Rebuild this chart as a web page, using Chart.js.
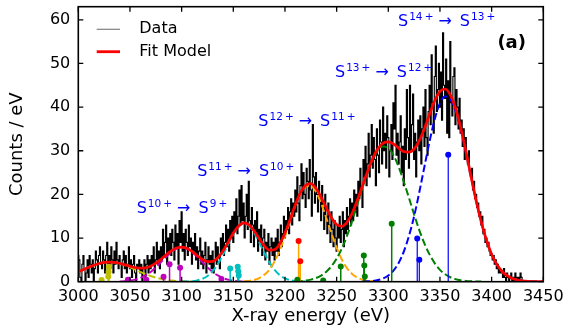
<!DOCTYPE html>
<html>
<head>
<meta charset="utf-8">
<script src="https://cdn.jsdelivr.net/npm/chart.js@4.4.1/dist/chart.umd.min.js"></script>
<style>
html,body{margin:0;padding:0;background:#fff;}
#wrap{width:566px;height:327px;position:relative;}
</style>
</head>
<body>
<div id="wrap"><canvas id="c" width="566" height="327"></canvas></div>
<script>
const FONT = "'DejaVu Sans', 'Liberation Sans', sans-serif";

// ---------- measured data (1 eV bins starting at 3000 eV) ----------
const dataStartEV = 3000;
const dataStepEV = 1;
const dataCounts = [
  6, 5, 1, 0, 4, 6, 3, 0, 2, 5,
  1, 6, 4, 2, 5, 0, 3, 7, 5, 2,
  6, 8, 4, 3, 7, 5, 2, 6, 9, 4,
  6, 3, 8, 5, 2, 7, 4, 9, 5, 3,
  6, 4, 1, 5, 7, 3, 6, 2, 4, 8,
  3, 5, 1, 4, 6, 2, 0, 4, 3, 5,
  2, 4, 0, 3, 5, 1, 4, 6, 2, 5,
  3, 6, 4, 8, 2, 5, 9, 4, 7, 3,
  8, 5, 12, 6, 9, 13, 4, 10, 7, 11,
  6, 12, 9, 5, 13, 8, 11, 4, 14, 9,
  16, 7, 11, 5, 12, 9, 6, 13, 8, 10,
  4, 9, 7, 11, 5, 8, 3, 7, 10, 4,
  7, 3, 6, 9, 2, 5, 8, 4, 6, 3,
  7, 2, 5, 9, 4, 8, 6, 3, 10, 7,
  11, 6, 9, 13, 8, 12, 7, 14, 10, 15,
  9, 16, 12, 19, 11, 15, 21, 13, 22, 14,
  18, 10, 15, 20, 12, 23, 14, 9, 17, 13,
  8, 14, 11, 16, 7, 12, 9, 13, 6, 10,
  12, 5, 9, 7, 11, 4, 8, 10, 6, 9,
  5, 10, 7, 12, 6, 9, 13, 8, 11, 15,
  10, 14, 12, 17, 11, 16, 19, 13, 18, 15,
  21, 16, 24, 18, 14, 22, 27, 19, 25, 20,
  17, 26, 23, 19, 28, 21, 15, 36, 24, 18,
  25, 20, 16, 23, 19, 14, 22, 17, 12, 20,
  15, 11, 18, 13, 9, 16, 12, 8, 14, 10,
  7, 13, 10, 15, 9, 12, 16, 8, 14, 11,
  17, 12, 15, 19, 13, 18, 14, 21, 16, 20,
  15, 23, 19, 26, 21, 17, 28, 24, 31, 22,
  27, 34, 24, 29, 36, 26, 33, 28, 22, 35,
  29, 25, 37, 32, 27, 40, 30, 34, 26, 38,
  33, 24, 30, 36, 28, 41, 35, 45, 29, 34,
  27, 32, 38, 25, 31, 22, 35, 28, 44, 33,
  26, 45, 30, 36, 43, 28, 34, 24, 32, 37,
  30, 38, 27, 35, 40, 31, 44, 33, 29, 39,
  45, 36, 52, 41, 34, 47, 54, 39, 44, 50,
  40, 48, 37, 57, 45, 42, 51, 34, 46, 33,
  55, 41, 38, 47, 49, 36, 44, 40, 35, 42,
  34, 37, 31, 35, 28, 33, 29, 27, 30, 25,
  24, 26, 21, 23, 19, 20, 17, 18, 15, 16,
  13, 15, 11, 12, 9, 10, 8, 9, 7, 6,
  6, 5, 6, 4, 5, 3, 4, 2, 3, 2,
  2, 1, 3, 1, 0, 2, 1, 0, 1, 2,
  0, 1, 0, 2, 1, 0, 1, 0, 2, 1,
  0
];

// ---------- fit model and components (5 eV grid) ----------
const curveStepEV = 5;
const fitStartEV = 3000;
const fitModel = [
  2.25, 2.78, 3.31, 3.78, 4.17, 4.41, 4.50, 4.41, 4.22, 3.90,
  3.55, 3.25, 3.10, 3.18, 3.55, 4.23, 5.14, 6.15, 7.07, 7.70,
  7.92, 7.64, 6.94, 6.01, 5.14, 4.60, 4.66, 5.47, 7.02, 9.06,
  11.14, 12.72, 13.48, 13.06, 11.70, 9.89, 8.21, 7.23, 7.36, 8.70,
  11.17, 14.28, 17.62, 20.39, 22.07, 22.47, 21.42, 19.40, 16.90, 14.65,
  13.10, 12.70, 13.60, 15.67, 18.64, 21.99, 25.29, 28.27, 30.52, 31.76,
  32.03, 31.55, 30.60, 29.80, 29.70, 30.40, 32.30, 35.10, 38.40, 41.50,
  43.60, 44.15, 42.82, 39.79, 35.32, 29.97, 24.19, 18.55, 13.62, 9.50,
  6.30, 3.97, 2.40, 1.37, 0.74, 0.39, 0.19, 0.09, 0.04, 0.02,
  0.01
];
const yellowStartEV = 3000;
const yellowComp = [2.25, 2.78, 3.31, 3.78, 4.17, 4.41, 4.5, 4.41, 4.17, 3.78, 3.31, 2.78, 2.25, 1.75, 1.31, 0.95, 0.66, 0.44, 0.28, 0.17, 0.10, 0.06, 0.03];
const magentaStartEV = 3040;
const magentaComp = [0.05, 0.12, 0.24, 0.47, 0.85, 1.43, 2.24, 3.28, 4.48, 5.71, 6.79, 7.53, 7.8, 7.53, 6.79, 5.71, 4.48, 3.28, 2.24, 1.43, 0.85, 0.47, 0.24, 0.12, 0.05, 0.02];
const cyanStartEV = 3100;
const cyanComp = [0.02, 0.05, 0.12, 0.30, 0.66, 1.32, 2.42, 4.04, 6.17, 8.59, 10.9, 12.6, 13.35, 12.86, 11.3, 9.07, 6.64, 4.43, 2.7, 1.5, 0.76, 0.35, 0.15, 0.06, 0.02];
const orangeStartEV = 3160;
const orangeComp = [0.08, 0.18, 0.40, 0.82, 1.57, 2.8, 4.66, 7.2, 10.4, 13.9, 17.4, 20.2, 21.8, 22.0, 20.6, 18.0, 14.6, 11.1, 7.8, 5.1, 3.1, 1.77, 0.94, 0.46, 0.21, 0.09, 0.04];
const greenStartEV = 3210;
const greenComp = [0.07, 0.13, 0.25, 0.47, 0.82, 1.4, 2.3, 3.55, 5.3, 7.6, 10.5, 13.9, 17.7, 21.5, 25.0, 28.0, 30.1, 31.0, 30.6, 29.0, 26.3, 22.9, 19.2, 15.4, 11.8, 8.7, 6.2, 4.2, 2.7, 1.7, 1.02, 0.59, 0.32, 0.17, 0.09, 0.05, 0.02];
const blueStartEV = 3275;
const blueComp = [0.03, 0.08, 0.18, 0.38, 0.76, 1.43, 2.55, 4.3, 6.9, 10.5, 15.0, 20.5, 26.4, 32.2, 37.3, 40.9, 42.45, 41.8, 39.2, 35.0, 29.8, 24.1, 18.5, 13.6, 9.5, 6.3, 3.97, 2.4, 1.37, 0.74, 0.39, 0.19, 0.09, 0.04, 0.02, 0.01];

// ---------- individual lines (stems) ----------
const yellowStemEV = [3022.5, 3029.0, 3029.3, 3029.6];
const yellowStemH  = [0.4, 1.2, 2.3, 3.4];
const magentaStemEV = [3048.0, 3065.8, 3082.5, 3088.3, 3098.5, 3138.5];
const magentaStemH  = [0.45, 0.45, 1.15, 4.0, 3.2, 0.6];
const cyanStemEV = [3147.0, 3154.3, 3154.8, 3155.3];
const cyanStemH  = [3.0, 3.4, 2.4, 1.4];
const orangeStemEV = [3213.2, 3214.8];
const orangeStemH  = [9.3, 4.7];
const greenStemEV = [3212.0, 3237.0, 3254.0, 3276.3, 3276.8, 3277.3, 3303.3];
const greenStemH  = [0.45, 0.3, 3.5, 6.0, 3.7, 1.2, 13.3];
const blueStemEV = [3328.0, 3330.0, 3358.0];
const blueStemH  = [9.9, 5.0, 29.1];

// ---------- annotations ----------
const transFrom = ['10+', '11+', '12+', '13+', '14+'];
const transTo   = ['9+', '10+', '11+', '12+', '13+'];
const transEV   = [3056.5, 3115.0, 3174.2, 3248.4, 3309.4];
const transY    = [15.8, 24.2, 35.7, 47.0, 58.5];

// ---------- helpers ----------
const series = (start, step, vals) => vals.map((v, i) => ({x: start + i * step, y: v}));
function stemSegments(xs, hs) {
  const pts = [];
  xs.forEach((x, i) => { pts.push({x: x, y: 0}, {x: x, y: hs[i]}, {x: x, y: null}); });
  return pts;
}
const dashedDs = (color, start, vals) => ({
  data: series(start, curveStepEV, vals), borderColor: color, borderWidth: 2,
  borderDash: [7.4, 3.2], pointRadius: 0, cubicInterpolationMode: 'monotone', fill: false
});
const stemLineDs = (color, xs, hs, w) => ({
  data: stemSegments(xs, hs), borderColor: color, borderWidth: w, pointRadius: 0, spanGaps: false, fill: false
});
const stemDotDs = (color, xs, hs) => ({
  data: xs.map((x, i) => ({x: x, y: hs[i]})), showLine: false, pointRadius: 3,
  pointBackgroundColor: color, pointBorderColor: color, pointBorderWidth: 0, borderColor: color
});

const datasets = [
  {data: series(fitStartEV, curveStepEV, fitModel), borderColor: '#ff0000', borderWidth: 2.7,
   pointRadius: 0, cubicInterpolationMode: 'monotone', fill: false},
  stemDotDs('#0000ff', blueStemEV, blueStemH),
  stemDotDs('#008000', greenStemEV, greenStemH),
  stemDotDs('#ff0000', orangeStemEV, orangeStemH),
  stemDotDs('#00bfbf', cyanStemEV, cyanStemH),
  stemDotDs('#bf00bf', magentaStemEV, magentaStemH),
  stemDotDs('#bfbf00', yellowStemEV, yellowStemH),
  stemLineDs('#0000ff', blueStemEV, blueStemH, 1.2),
  stemLineDs('#008000', greenStemEV, greenStemH, 1.5),
  stemLineDs('#ffa500', orangeStemEV, orangeStemH, 1.5),
  stemLineDs('#00bfbf', cyanStemEV, cyanStemH, 1.5),
  stemLineDs('#bf00bf', magentaStemEV, magentaStemH, 1.5),
  stemLineDs('#bfbf00', yellowStemEV, yellowStemH, 1.5),
  dashedDs('#0000ff', blueStartEV, blueComp),
  dashedDs('#008000', greenStartEV, greenComp),
  dashedDs('#ffa500', orangeStartEV, orangeComp),
  dashedDs('#00bfbf', cyanStartEV, cyanComp),
  dashedDs('#bf00bf', magentaStartEV, magentaComp),
  dashedDs('#bfbf00', yellowStartEV, yellowComp),
  {data: series(dataStartEV, dataStepEV, dataCounts), borderColor: '#000000', borderWidth: 1.15,
   pointRadius: 0, stepped: 'middle', fill: false}
];

function drawTransition(ctx, px, py, from, to) {
  ctx.fillStyle = '#0000ff';
  ctx.textAlign = 'left';
  ctx.textBaseline = 'alphabetic';
  let cx = px;
  ctx.font = '16px ' + FONT;
  ctx.fillText('S', cx, py); cx += ctx.measureText('S').width + 1;
  ctx.font = '10.5px ' + FONT;
  const f = from.replace('+', '\u2009+');
  ctx.fillText(f, cx, py - 6); cx += ctx.measureText(f).width + 5;
  ctx.font = '16px ' + FONT;
  ctx.fillText('\u2192', cx, py); cx += ctx.measureText('\u2192').width + 8;
  ctx.fillText('S', cx, py); cx += ctx.measureText('S').width + 1;
  ctx.font = '10.5px ' + FONT;
  ctx.fillText(to.replace('+', '\u2009+'), cx, py - 6);
}

const overlay = {
  id: 'overlay',
  afterDatasetsDraw(chart) {
    const ctx = chart.ctx;
    const {left, right, top, bottom} = chart.chartArea;
    const xs = chart.scales.x, ys = chart.scales.y;
    ctx.save();
    ctx.strokeStyle = '#000'; ctx.lineWidth = 1.6; ctx.setLineDash([]);
    ctx.strokeRect(left, top, right - left, bottom - top);
    ctx.lineWidth = 1.3;
    ctx.beginPath();
    xs.ticks.forEach(t => {
      const p = xs.getPixelForValue(t.value);
      ctx.moveTo(p, bottom); ctx.lineTo(p, bottom - 5);
      ctx.moveTo(p, top); ctx.lineTo(p, top + 5);
    });
    ys.ticks.forEach(t => {
      const p = ys.getPixelForValue(t.value);
      ctx.moveTo(left, p); ctx.lineTo(left + 5, p);
      ctx.moveTo(right, p); ctx.lineTo(right - 5, p);
    });
    ctx.stroke();
    transFrom.forEach((f, i) => {
      drawTransition(ctx, xs.getPixelForValue(transEV[i]), ys.getPixelForValue(transY[i]), f, transTo[i]);
    });
    ctx.fillStyle = '#000';
    ctx.font = 'bold 18px ' + FONT;
    ctx.textAlign = 'center'; ctx.textBaseline = 'alphabetic';
    ctx.fillText('(a)', xs.getPixelForValue(3419.4), ys.getPixelForValue(53.6));
    const lx0 = left + 18.4, lx1 = left + 41.7, tx = left + 61;
    const ly1 = top + 22.6, ly2 = top + 45;
    ctx.beginPath(); ctx.strokeStyle = '#808080'; ctx.lineWidth = 1.2;
    ctx.moveTo(lx0, ly1); ctx.lineTo(lx1, ly1); ctx.stroke();
    ctx.beginPath(); ctx.strokeStyle = '#ff0000'; ctx.lineWidth = 2.8;
    ctx.moveTo(lx0, ly2); ctx.lineTo(lx1, ly2); ctx.stroke();
    ctx.fillStyle = '#000'; ctx.font = '16px ' + FONT;
    ctx.textAlign = 'left'; ctx.textBaseline = 'middle';
    ctx.fillText('Data', tx, ly1);
    ctx.fillText('Fit Model', tx, ly2);
    ctx.restore();
  }
};

new Chart(document.getElementById('c'), {
  type: 'line',
  data: {datasets: datasets},
  plugins: [overlay],
  options: {
    responsive: false,
    animation: false,
    devicePixelRatio: 1,
    events: [],
    layout: {padding: {top: 6.7, right: 22.7, left: 0, bottom: 0}},
    plugins: {legend: {display: false}, tooltip: {enabled: false}},
    scales: {
      x: {
        type: 'linear', min: 3000, max: 3450,
        ticks: {stepSize: 50, color: '#000', font: {family: FONT, size: 16}, padding: 6, maxRotation: 0,
                includeBounds: false, callback: v => String(v)},
        grid: {display: false, drawTicks: false},
        border: {display: false},
        title: {display: true, text: 'X-ray energy (eV)', color: '#000', font: {family: FONT, size: 18}, padding: {top: 0, bottom: 0}},
        afterFit: s => { s.height = 45.3; s.paddingLeft = 0; s.paddingRight = 0; }
      },
      y: {
        type: 'linear', min: 0, max: 63,
        ticks: {stepSize: 10, color: '#000', font: {family: FONT, size: 16}, padding: 8, includeBounds: false},
        grid: {display: false, drawTicks: false},
        border: {display: false},
        title: {display: true, text: 'Counts / eV', color: '#000', font: {family: FONT, size: 18}, padding: {top: 6.7, bottom: 0}},
        afterFit: s => { s.width = 78.3; s.paddingTop = 0; s.paddingBottom = 0; }
      }
    }
  }
});
</script>
</body>
</html>
